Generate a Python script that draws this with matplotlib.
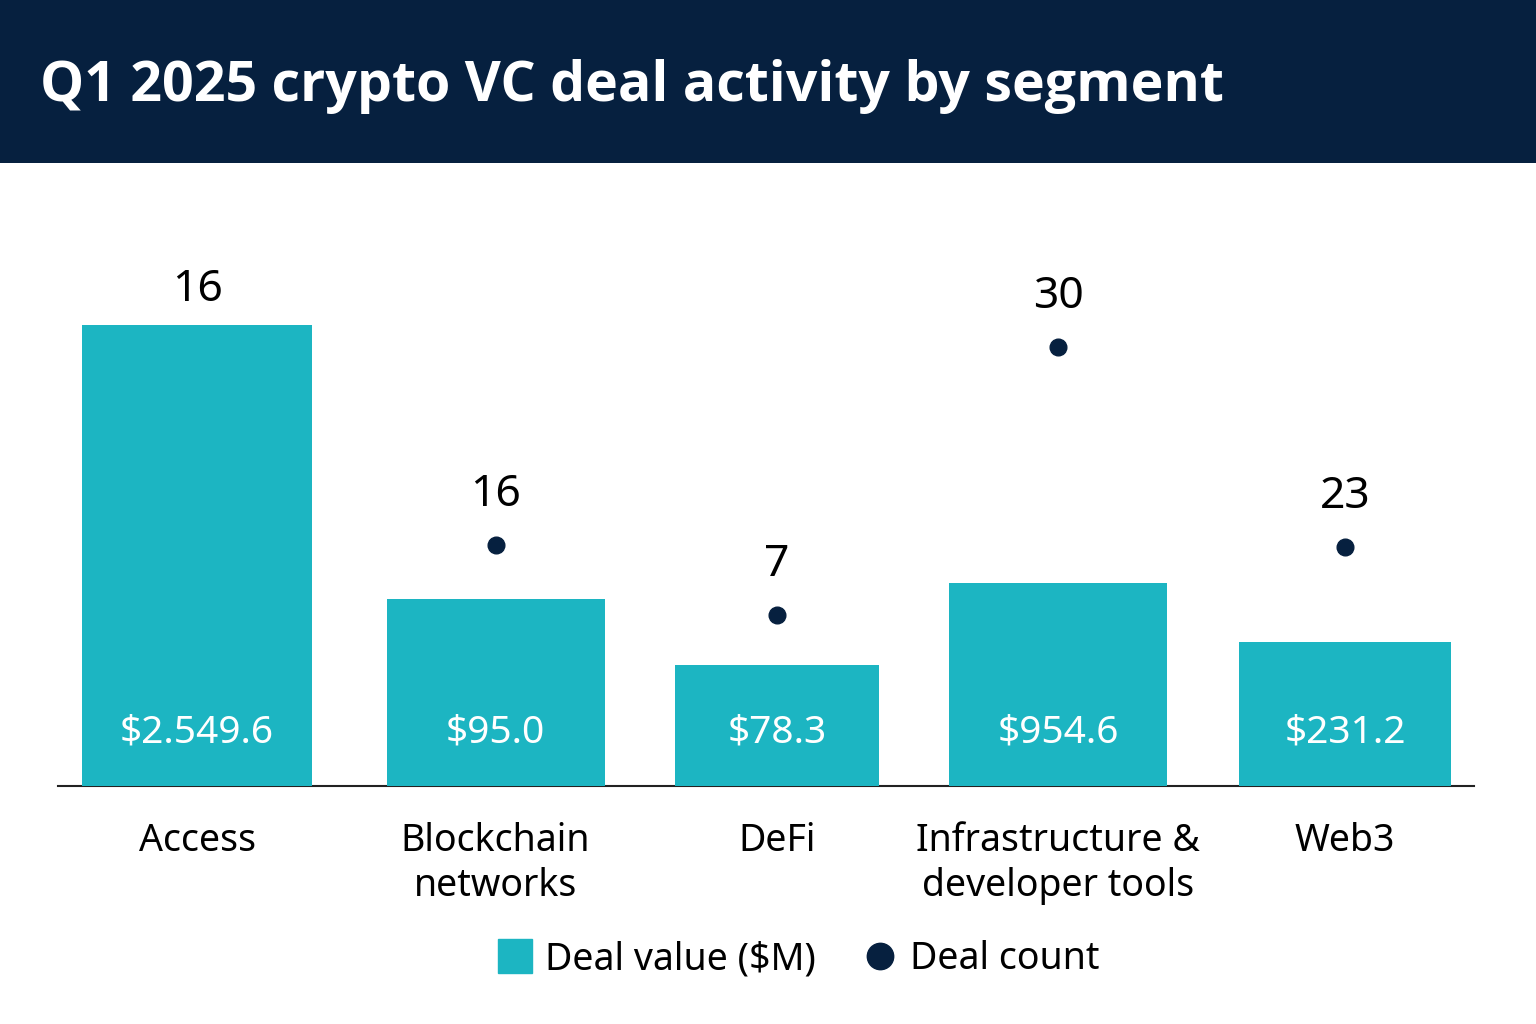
import matplotlib
matplotlib.use("Agg")
import matplotlib.pyplot as plt
import matplotlib.transforms as mtransforms
from matplotlib.lines import Line2D
from matplotlib.patches import Rectangle

plt.rcParams['font.family'] = ['Noto Sans', 'DejaVu Sans']

# ---- data ----
categories = ["Access", "Blockchain\nnetworks", "DeFi", "Infrastructure &\ndeveloper tools", "Web3"]
value_labels = ["$2.549.6", "$95.0", "$78.3", "$954.6", "$231.2"]
deal_count = [16, 16, 7, 30, 23]
# displayed bar heights and dot levels as drawn in the picture (relative units, Access bar = 100)
bar_height = [100, 40.6, 26.2, 44.0, 31.2]
dot_level = [96.7, 52.3, 37.1, 95.2, 51.8]

title = "Q1 2025 crypto VC deal activity by segment"
legend_labels = ["Deal value ($M)", "Deal count"]

TEAL = "#1cb5c2"
NAVY = "#06203f"

W, H = 1536, 1024
fig = plt.figure(figsize=(W / 100, H / 100), dpi=100)
fig.patches.append(Rectangle((0, 1 - 163 / H), 1, 163 / H, transform=fig.transFigure,
                             facecolor=NAVY, edgecolor='none', zorder=0))
fig.text(40 / W, 1 - 86 / H, title, color='white', fontsize=40, fontweight='bold',
         family=['Open Sans', 'Noto Sans', 'DejaVu Sans'], va='center', ha='left')

ax_left, ax_right, ax_bottom, ax_top = 58, 1474, 786, 200
ax = fig.add_axes([ax_left / W, 1 - ax_bottom / H, (ax_right - ax_left) / W, (ax_bottom - ax_top) / H])
x = [0, 1.04, 2.02, 3, 4]
widths = [0.80, 0.76, 0.71, 0.76, 0.74]
ax.bar(x, bar_height, width=widths, color=TEAL, zorder=3)
ax.plot(x, dot_level, 'o', color=NAVY, markersize=12, zorder=2, linestyle='none')

ax.set_xlim(-0.485, 4.45)
ax.set_ylim(0, 100 * (ax_bottom - ax_top) / 461)
for s in ['top', 'right', 'left']:
    ax.spines[s].set_visible(False)
ax.spines['bottom'].set_color('#222222')
ax.spines['bottom'].set_linewidth(1.5)
ax.set_xticks([])
ax.set_yticks([])

for xi, h, lab in zip(x, bar_height, value_labels):
    ax.text(xi, 11.6, lab, color='white', fontsize=28, ha='center', va='center', zorder=4)
for xi, d, c in zip(x, dot_level, deal_count):
    ax.text(xi, d + 10.9, str(c), color='black', fontsize=32, ha='center', va='center', zorder=4)

trans = mtransforms.blended_transform_factory(ax.transData, fig.transFigure)
for xi, cat in zip(x, categories):
    ax.text(xi, 1 - 822 / H, cat, transform=trans, ha='center', va='top', fontsize=27,
            linespacing=1.25, color='black')

handles = [Line2D([], [], marker='s', color=TEAL, linestyle='none', markersize=24),
           Line2D([], [], marker='o', color=NAVY, linestyle='none', markersize=19)]
fig.legend(handles, legend_labels, loc='center', bbox_to_anchor=(798 / W, 1 - 959 / H),
           ncol=2, frameon=False, fontsize=27, handletextpad=0.3, columnspacing=1.2,
           handlelength=1.0)

fig.savefig("out.png", dpi=100)
